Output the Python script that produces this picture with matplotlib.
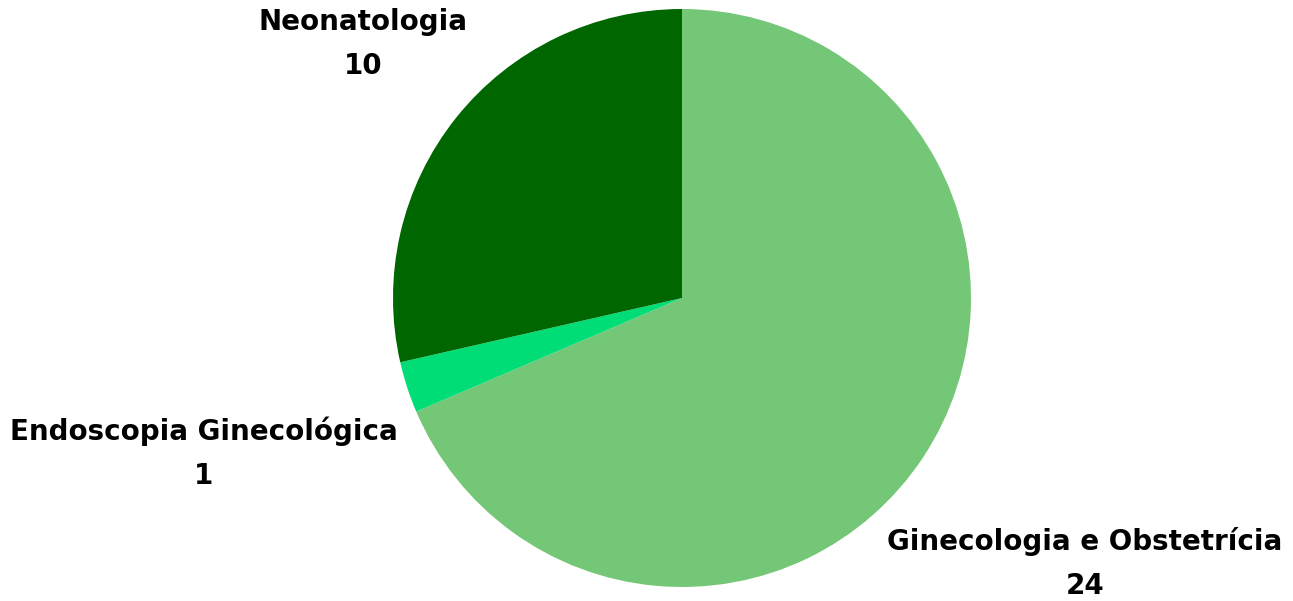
import matplotlib
matplotlib.use("Agg")
import matplotlib.pyplot as plt
import numpy as np

categories = ["Ginecologia e Obstetrícia", "Endoscopia Ginecológica", "Neonatologia"]
values = [24, 1, 10]
colors = ["#74C776", "#00DD77", "#006600"]
label_dist = [1.67, 1.74, 1.41]

W, H = 1293, 601
fig = plt.figure(figsize=(W / 100, H / 100), dpi=100)
ax = fig.add_axes([0, 0, 1, 1])
cx, cy, r = 682, 298, 289

wedges, _ = ax.pie(values, colors=colors, startangle=90, counterclock=False,
                   radius=1, wedgeprops=dict(linewidth=0))
ax.set_xlim(-cx / r, (W - cx) / r)
ax.set_ylim(-(H - cy) / r, cy / r)
ax.set_aspect("equal")
ax.axis("off")

for w, cat, v, d in zip(wedges, categories, values, label_dist):
    ang = np.deg2rad((w.theta1 + w.theta2) / 2)
    ax.text(d * np.cos(ang), d * np.sin(ang), f"{cat}\n{v}", ha="center", va="center",
            fontsize=20, fontweight="bold", family="DejaVu Sans", linespacing=1.72,
            color="black")

fig.savefig("out.png", dpi=100)
